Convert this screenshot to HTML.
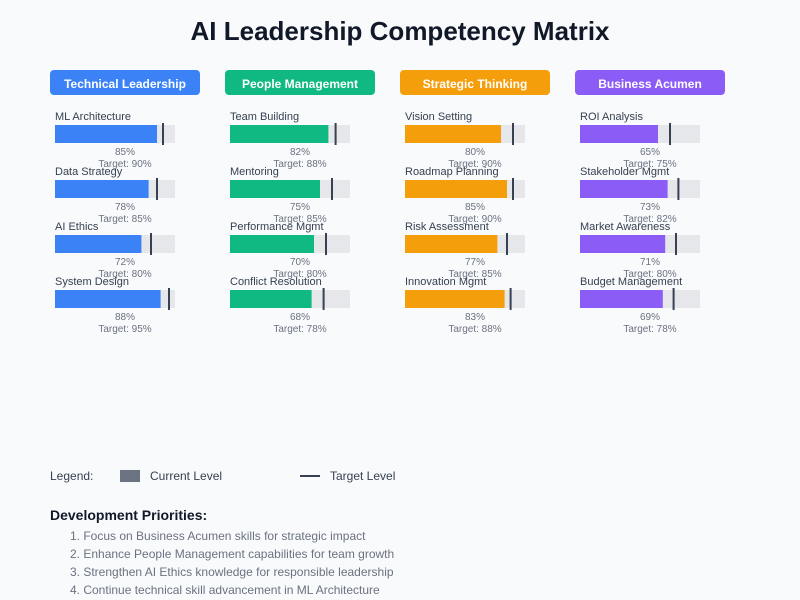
<!DOCTYPE html>
<html><head><meta charset="utf-8"><style>
body{margin:0;background:#f8fafc;}
svg{display:block;font-family:"Liberation Sans",Arial,sans-serif;}
.l{font-size:11px;fill:#374151}
.p{font-size:10px;fill:#6b7280;text-anchor:middle}
.h{font-size:12px;font-weight:bold;fill:#fff;text-anchor:middle}
.bg{fill:#e5e7eb}
.t{stroke:#374151;stroke-width:2}
</style></head><body>
<svg width="800" height="600" viewBox="0 0 800 600">
<rect width="800" height="600" fill="#f8fafc"/>
<text x="400" y="40" text-anchor="middle" font-size="26" font-weight="bold" fill="#111827">AI Leadership Competency Matrix</text>

<rect x="50" y="70" width="150" height="25" rx="4" fill="#3b82f6"/><text class="h" x="125" y="88">Technical Leadership</text>
<rect x="225" y="70" width="150" height="25" rx="4" fill="#10b981"/><text class="h" x="300" y="88">People Management</text>
<rect x="400" y="70" width="150" height="25" rx="4" fill="#f59e0b"/><text class="h" x="475" y="88">Strategic Thinking</text>
<rect x="575" y="70" width="150" height="25" rx="4" fill="#8b5cf6"/><text class="h" x="650" y="88">Business Acumen</text>

<g fill="#3b82f6">
<text class="l" x="55" y="120">ML Architecture</text><rect class="bg" x="55" y="125" width="120" height="18"/><rect x="55" y="125" width="102" height="18"/><line class="t" x1="163" y1="123" x2="163" y2="145"/><text class="p" x="125" y="155">85%</text><text class="p" x="125" y="167">Target: 90%</text>
<text class="l" x="55" y="175">Data Strategy</text><rect class="bg" x="55" y="180" width="120" height="18"/><rect x="55" y="180" width="93.6" height="18"/><line class="t" x1="157" y1="178" x2="157" y2="200"/><text class="p" x="125" y="210">78%</text><text class="p" x="125" y="222">Target: 85%</text>
<text class="l" x="55" y="230">AI Ethics</text><rect class="bg" x="55" y="235" width="120" height="18"/><rect x="55" y="235" width="86.4" height="18"/><line class="t" x1="151" y1="233" x2="151" y2="255"/><text class="p" x="125" y="265">72%</text><text class="p" x="125" y="277">Target: 80%</text>
<text class="l" x="55" y="285">System Design</text><rect class="bg" x="55" y="290" width="120" height="18"/><rect x="55" y="290" width="105.6" height="18"/><line class="t" x1="169" y1="288" x2="169" y2="310"/><text class="p" x="125" y="320">88%</text><text class="p" x="125" y="332">Target: 95%</text>
</g>
<g fill="#10b981">
<text class="l" x="230" y="120">Team Building</text><rect class="bg" x="230" y="125" width="120" height="18"/><rect x="230" y="125" width="98.4" height="18"/><line class="t" x1="335.6" y1="123" x2="335.6" y2="145"/><text class="p" x="300" y="155">82%</text><text class="p" x="300" y="167">Target: 88%</text>
<text class="l" x="230" y="175">Mentoring</text><rect class="bg" x="230" y="180" width="120" height="18"/><rect x="230" y="180" width="90" height="18"/><line class="t" x1="332" y1="178" x2="332" y2="200"/><text class="p" x="300" y="210">75%</text><text class="p" x="300" y="222">Target: 85%</text>
<text class="l" x="230" y="230">Performance Mgmt</text><rect class="bg" x="230" y="235" width="120" height="18"/><rect x="230" y="235" width="84" height="18"/><line class="t" x1="326" y1="233" x2="326" y2="255"/><text class="p" x="300" y="265">70%</text><text class="p" x="300" y="277">Target: 80%</text>
<text class="l" x="230" y="285">Conflict Resolution</text><rect class="bg" x="230" y="290" width="120" height="18"/><rect x="230" y="290" width="81.6" height="18"/><line class="t" x1="323.6" y1="288" x2="323.6" y2="310"/><text class="p" x="300" y="320">68%</text><text class="p" x="300" y="332">Target: 78%</text>
</g>
<g fill="#f59e0b">
<text class="l" x="405" y="120">Vision Setting</text><rect class="bg" x="405" y="125" width="120" height="18"/><rect x="405" y="125" width="96" height="18"/><line class="t" x1="513" y1="123" x2="513" y2="145"/><text class="p" x="475" y="155">80%</text><text class="p" x="475" y="167">Target: 90%</text>
<text class="l" x="405" y="175">Roadmap Planning</text><rect class="bg" x="405" y="180" width="120" height="18"/><rect x="405" y="180" width="102" height="18"/><line class="t" x1="513" y1="178" x2="513" y2="200"/><text class="p" x="475" y="210">85%</text><text class="p" x="475" y="222">Target: 90%</text>
<text class="l" x="405" y="230">Risk Assessment</text><rect class="bg" x="405" y="235" width="120" height="18"/><rect x="405" y="235" width="92.4" height="18"/><line class="t" x1="507" y1="233" x2="507" y2="255"/><text class="p" x="475" y="265">77%</text><text class="p" x="475" y="277">Target: 85%</text>
<text class="l" x="405" y="285">Innovation Mgmt</text><rect class="bg" x="405" y="290" width="120" height="18"/><rect x="405" y="290" width="99.6" height="18"/><line class="t" x1="510.6" y1="288" x2="510.6" y2="310"/><text class="p" x="475" y="320">83%</text><text class="p" x="475" y="332">Target: 88%</text>
</g>
<g fill="#8b5cf6">
<text class="l" x="580" y="120">ROI Analysis</text><rect class="bg" x="580" y="125" width="120" height="18"/><rect x="580" y="125" width="78" height="18"/><line class="t" x1="670" y1="123" x2="670" y2="145"/><text class="p" x="650" y="155">65%</text><text class="p" x="650" y="167">Target: 75%</text>
<text class="l" x="580" y="175">Stakeholder Mgmt</text><rect class="bg" x="580" y="180" width="120" height="18"/><rect x="580" y="180" width="87.6" height="18"/><line class="t" x1="678.4" y1="178" x2="678.4" y2="200"/><text class="p" x="650" y="210">73%</text><text class="p" x="650" y="222">Target: 82%</text>
<text class="l" x="580" y="230">Market Awareness</text><rect class="bg" x="580" y="235" width="120" height="18"/><rect x="580" y="235" width="85.2" height="18"/><line class="t" x1="676" y1="233" x2="676" y2="255"/><text class="p" x="650" y="265">71%</text><text class="p" x="650" y="277">Target: 80%</text>
<text class="l" x="580" y="285">Budget Management</text><rect class="bg" x="580" y="290" width="120" height="18"/><rect x="580" y="290" width="82.8" height="18"/><line class="t" x1="673.6" y1="288" x2="673.6" y2="310"/><text class="p" x="650" y="320">69%</text><text class="p" x="650" y="332">Target: 78%</text>
</g>

<text x="50" y="480" font-size="12" fill="#374151">Legend:</text>
<rect x="120" y="470" width="20" height="12" fill="#6b7280"/>
<text x="150" y="480" font-size="12" fill="#374151">Current Level</text>
<line x1="300" y1="476" x2="320" y2="476" stroke="#374151" stroke-width="2"/>
<text x="330" y="480" font-size="12" fill="#374151">Target Level</text>

<text x="50" y="520" font-size="14" font-weight="bold" fill="#111827">Development Priorities:</text>
<g font-size="12" fill="#6b7280">
<text x="70" y="540">1. Focus on Business Acumen skills for strategic impact</text>
<text x="70" y="558">2. Enhance People Management capabilities for team growth</text>
<text x="70" y="576">3. Strengthen AI Ethics knowledge for responsible leadership</text>
<text x="70" y="594">4. Continue technical skill advancement in ML Architecture</text>
</g>
</svg>
</body></html>
